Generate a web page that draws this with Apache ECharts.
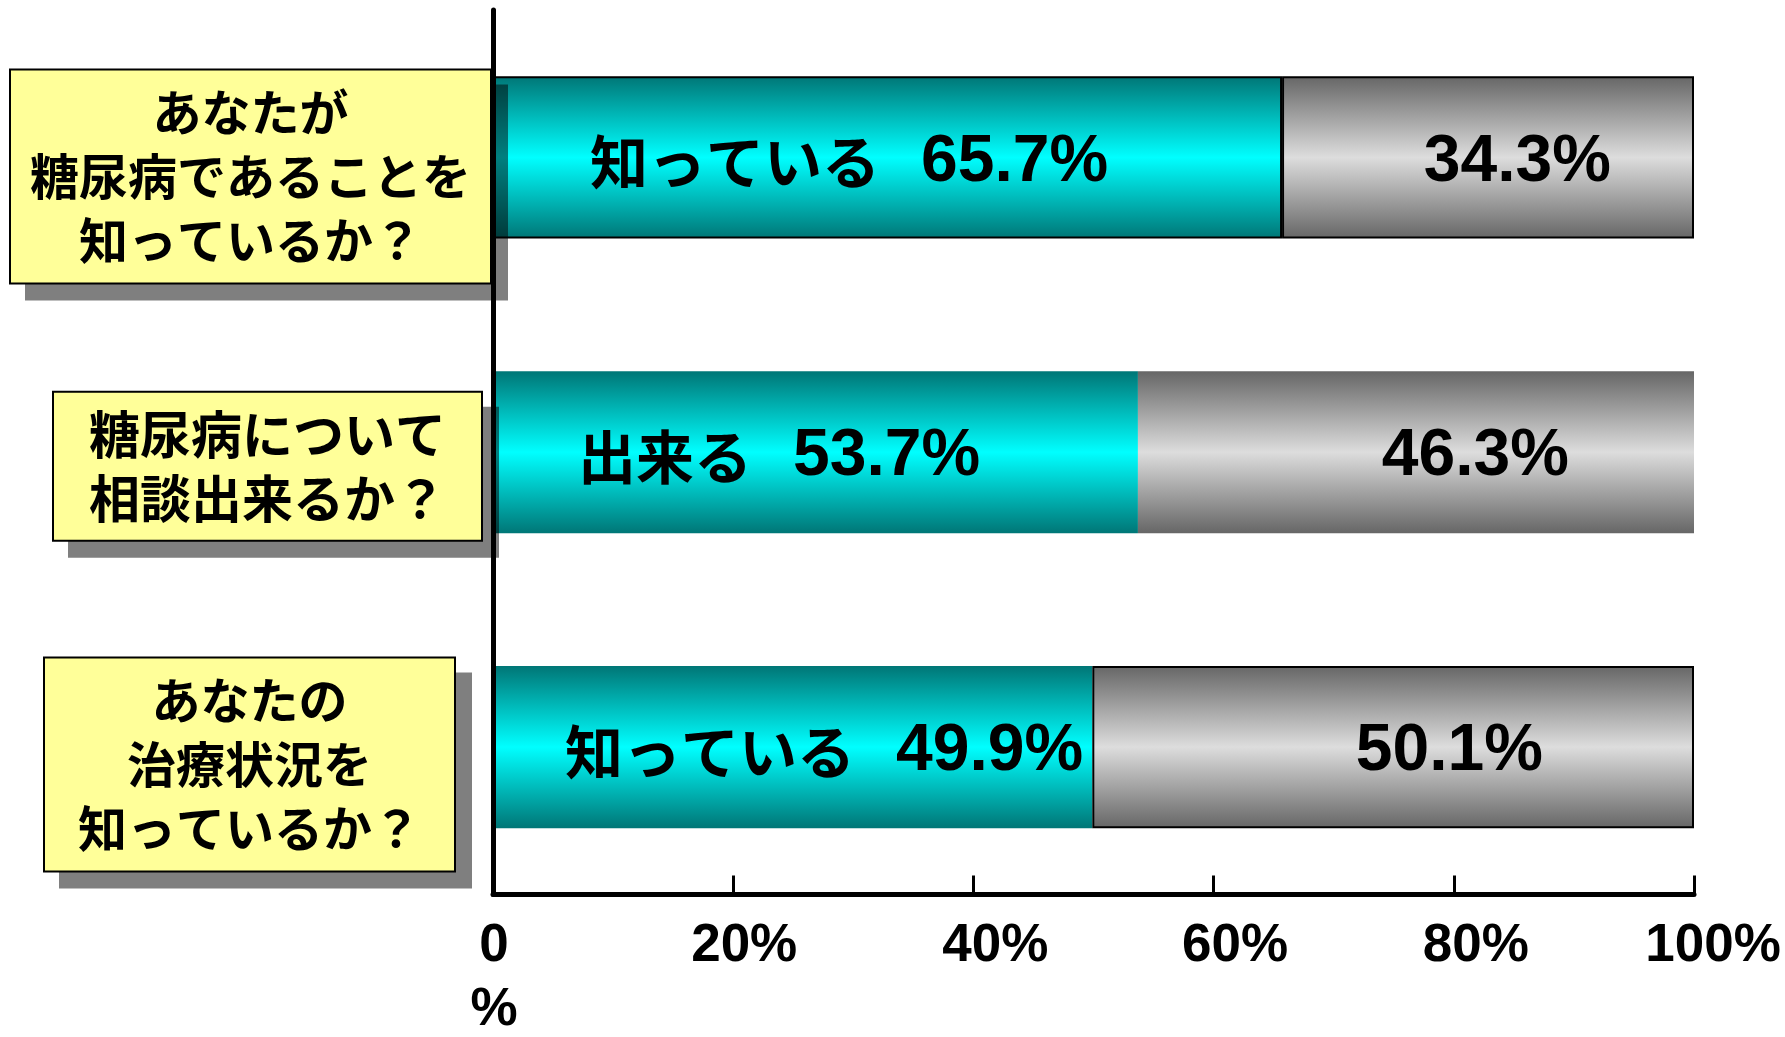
<!DOCTYPE html>
<html>
<head>
<meta charset="utf-8">
<script src="https://cdn.jsdelivr.net/npm/echarts@6/dist/echarts.min.js"></script>
<style>
html,body{margin:0;padding:0;background:#fff;}
#c{width:1785px;height:1037px;}
</style>
</head>
<body>
<div id="c"></div>
<script>
// ---- data ----
const categories = [
  'あなたが\n糖尿病であることを\n知っているか？',
  '糖尿病について\n相談出来るか？',
  'あなたの\n治療状況を\n知っているか？'
];
const knowWords = ['知っている', '出来る', '知っている'];
const knowValues = [65.7, 53.7, 49.9];
const otherValues = [34.3, 46.3, 50.1];
const tickValues = [0, 20, 40, 60, 80, 100];
const tickLabels = ['0\n%', '20%', '40%', '60%', '80%', '100%'];

// ---- styling ----
const JP = '"Noto Sans CJK JP", sans-serif';
const EN = '"Liberation Sans", Arial, sans-serif';
const tealGrad = {type:'linear',x:0,y:0,x2:0,y2:1,colorStops:[
  {offset:0,color:'#007676'},{offset:0.5,color:'#00ffff'},{offset:1,color:'#007676'}]};
const grayGrad = {type:'linear',x:0,y:0,x2:0,y2:1,colorStops:[
  {offset:0,color:'#666666'},{offset:0.5,color:'#dddddd'},{offset:1,color:'#666666'}]};
const tealBorder = [true, false, false];
const grayBorder = [true, false, true];
const tealInset = [97, 85, 72];
const grayInset = [83, 125, 151];
const tickShift = [2, 22, 44, 43, 44, 38];
const boxes = [
  {left:10, width:481, height:214, dy:19, font:49},
  {left:53, width:429, height:149, dy:14, font:51},
  {left:44, width:411, height:214, dy:17.5, font:49}
];

const tickRich = {};
tickShift.forEach((p,i)=>{ tickRich['o'+i] = {padding:[0,0,0,p], fontSize:53, fontWeight:'bold', fontFamily:EN, color:'#000', lineHeight:64}; });

const chart = echarts.init(document.getElementById('c'), null, {renderer:'canvas'});
const option = {
  animation:false,
  backgroundColor:'#ffffff',
  grid:{left:493, right:91, top:10, bottom:140, containLabel:false},
  xAxis:{
    type:'value', min:0, max:100, interval:20,
    axisLine:{show:true, lineStyle:{color:'#000', width:5}},
    axisTick:{show:true, inside:true, length:19, lineStyle:{color:'#000', width:3}},
    splitLine:{show:false},
    axisLabel:{
      margin:20,
      formatter:(v)=>{ const i = tickValues.indexOf(v); return '{o'+i+'|'+tickLabels[i]+'}'; },
      rich:tickRich
    },
    z:3
  },
  yAxis:{
    type:'category', data:categories, inverse:true,
    axisLine:{show:true, lineStyle:{color:'#000', width:5}},
    axisTick:{show:false},
    axisLabel:{show:false},
    splitLine:{show:false},
    z:3
  },
  series:[
    {
      type:'bar', stack:'s', barCategoryGap:'45%',
      data: knowValues.map((v,i)=>({
        value:v,
        itemStyle:{color:tealGrad, borderColor:'#000', borderWidth: tealBorder[i]?2:0},
        label:{distance:tealInset[i],
          formatter:'{j|'+knowWords[i]+'}{g|}{n|'+v.toFixed(1)+'%}'}
      })),
      label:{show:true, position:'insideLeft', offset:[0,5],
        rich:{
          j:{fontFamily:JP, fontWeight:'bold', fontSize:58, color:'#000'},
          g:{width:41},
          n:{fontFamily:EN, fontWeight:'bold', fontSize:66, color:'#000'}
        }},
      itemStyle:{color:tealGrad}
    },
    {
      type:'bar', stack:'s', barCategoryGap:'45%',
      data: otherValues.map((v,i)=>({
        value:v,
        itemStyle:{color:grayGrad, borderColor:'#000', borderWidth: grayBorder[i]?2:0},
        label:{distance:grayInset[i]}
      })),
      label:{show:true, position:'insideRight', offset:[0,5],
        formatter:(p)=>p.value.toFixed(1)+'%',
        fontFamily:EN, fontWeight:'bold', fontSize:66, color:'#000'},
      itemStyle:{color:grayGrad}
    }
  ]
};
chart.setOption(option);

// category boxes placed at each category's position on the y axis
const gfx = [];
categories.forEach((c,i)=>{
  const b = boxes[i];
  const cy = chart.convertToPixel({yAxisIndex:0}, i) + b.dy;
  const top = cy - b.height/2;
  gfx.push({type:'rect', z:100, shape:{x:b.left+15, y:top+15, width:b.width+2, height:b.height+2},
    style:{fill:'rgba(0,0,0,0.5)'}});
  gfx.push({type:'rect', z:101, shape:{x:b.left, y:top, width:b.width, height:b.height},
    style:{fill:'#ffff99', stroke:'#000', lineWidth:2}});
  gfx.push({type:'text', z:102, x:b.left+b.width/2, y:cy,
    style:{text:c, fill:'#000', font:'bold '+b.font+'px '+JP, align:'center', verticalAlign:'middle', lineHeight:64}});
});
chart.setOption({graphic:gfx});
</script>
</body>
</html>
